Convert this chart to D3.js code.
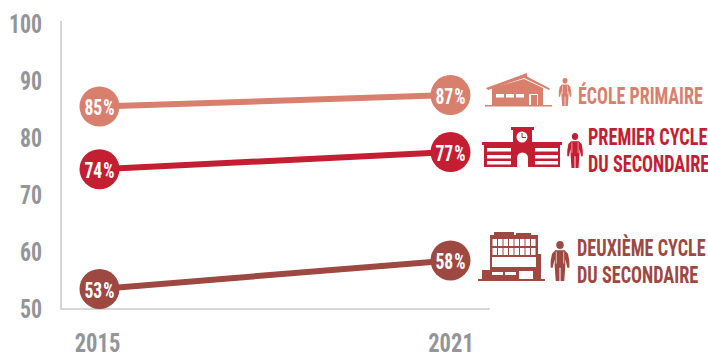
<!DOCTYPE html>
<html><head><meta charset="utf-8">
<script src="https://cdn.jsdelivr.net/npm/d3@7"></script>
<style>html,body{margin:0;background:#fff}svg{display:block}text{font-family:"Liberation Sans Narrow","Roboto Condensed","Liberation Sans",sans-serif;font-weight:700}</style>
</head><body><svg id="c" width="708" height="353"></svg>
<script>
const years=["2015","2021"];
const primaire=[85,87], premier=[74,77], deuxieme=[53,58];
const yTicks=[50,60,70,80,90,100];
const colors=["#d97f6e","#c41e32","#9e4842"];
const seriesValues=[primaire,premier,deuxieme];
const labels=[["ÉCOLE PRIMAIRE"],["PREMIER CYCLE","DU SECONDAIRE"],["DEUXIÈME CYCLE","DU SECONDAIRE"]];
const gray="#939598";
const svg=d3.select("#c");
const x=d3.scalePoint().domain(years).range([99.5,450.5]);
const y=d3.scaleLinear().domain([50,100]).range([306,21]);
svg.append("path").attr("d","M61,21V309H490").attr("fill","none").attr("stroke","#c9c9c9").attr("stroke-width",1.5);
function sq(sel,t,tx,cy,size,sx){return sel.append("text").text(t).attr("transform",`translate(${tx},${cy}) scale(${sx},1)`).attr("dy","0.36em").attr("font-size",size)}
yTicks.forEach(t=>sq(svg,t,42,y(t)+3,26,0.84).attr("text-anchor","end").attr("fill",gray));
years.forEach((t,i)=>sq(svg,t,x(t)+(i?0.5:-2),342,26.5,0.85).attr("text-anchor","middle").attr("fill",gray));
const line=d3.line().x((d,i)=>x(years[i])).y(d=>y(d));
seriesValues.forEach((vals,s)=>{
 svg.append("path").attr("d",line(vals)).attr("fill","none").attr("stroke",colors[s]).attr("stroke-width",6);
 vals.forEach((v,i)=>{
  svg.append("circle").attr("cx",x(years[i])).attr("cy",y(v)).attr("r",20).attr("fill",colors[s]);
  const t=sq(svg,v,x(years[i]),y(v)+1,22,0.8).attr("text-anchor","middle").attr("fill","#fff");
  t.append("tspan").attr("dx",1.5).text("%");
 });
});
// labels
const lab=[[578,95,24,0.75],[588,136,24,0.76],[577,247,24,0.76]];
labels.forEach((ls,s)=>ls.forEach((l,i)=>{
 sq(svg,l,lab[s][0],lab[s][1]+(i*27),lab[s][2],lab[s][3]).attr("fill",colors[s]);
}));
function r(g,x0,y0,w,h,f){g.append("rect").attr("x",x0).attr("y",y0).attr("width",w).attr("height",h).attr("fill",f)}
function person(g,cx,top,h,c,sx=1){
 const k=h/30;
 const p=g.append("g").attr("transform",`translate(${cx},${top}) scale(${k*sx},${k})`).attr("fill",c);
 p.append("ellipse").attr("cx",0).attr("cy",3).attr("rx",2.8).attr("ry",3);
 p.append("path").attr("d","M-3.500,7H3.500L6,9.500L7,15V20L5.500,20L4,13.500V18.500L3.200,30H0.400V20H-0.400V30H-3.200L-4,18.500V13.500L-5.500,20L-7,20V15L-6,9.500Z");
 p.append("path").attr("d","M-2.800,8V17M2.800,8V17").attr("stroke","#fff").attr("stroke-width",0.5).attr("fill","none");
}
// primary school
let g=svg.append("g");
const c0=colors[0];
g.append("path").attr("d","M486,88L527,73V76.500L550,88.500L549,90L524,78L488,90Z").attr("fill",c0);
g.append("path").attr("d","M492,88L524,79L543,88V105H492Z").attr("fill",c0);
r(g,485,105,67,1.500,c0);
[496,506,516].forEach(a=>r(g,a,94,8,3.500,"#fff"));
r(g,529,92,9,13,"#fff");r(g,531,95,6,10,c0);
r(g,528,92,11,2,c0);
person(g,565,78,28,c0,0.95);
// middle school
g=svg.append("g");const c1=colors[1];
r(g,511,127,23,3,c1);r(g,513,130,19,37,c1);
g.append("circle").attr("cx",522).attr("cy",137).attr("r",5.500).attr("fill","#fff");
g.append("path").attr("d","M522,133V137.500H526").attr("stroke",c1).attr("fill","none").attr("stroke-width",1);
g.append("path").attr("d","M517,167V158A5.500,5.500,0,0,1,528,158V167Z").attr("fill","#fff");
r(g,482,142,31,3,c1);r(g,532,142,30,3,c1);
[[484,29],[532,28]].forEach(([a,w])=>{r(g,a,145,w,22,c1);[148,155,161].forEach(b=>r(g,a+3,b,w-5,3.500,"#fff"));});
person(g,575,133,35,c1,0.95);
// high school
g=svg.append("g");const c2=colors[2];
r(g,494,232,20,4,c2);r(g,516,233,15,2,c2);r(g,490,235,48,41,c2);
[239,248].forEach(b=>{for(let i=0;i<8;i++)r(g,492.500+i*5.500,b,4.500,7,"#fff")});
r(g,492,257,44,10,"#fff");
r(g,538,254,3,25,c2);r(g,482,270,59,9,c2);
r(g,478,279,67,2,c2);
r(g,492,272,11,3,"#fff");r(g,505,272,11,3,"#fff");r(g,519,271,14,8,"#fff");
person(g,560,241,40,c2,1);
</script></body></html>
